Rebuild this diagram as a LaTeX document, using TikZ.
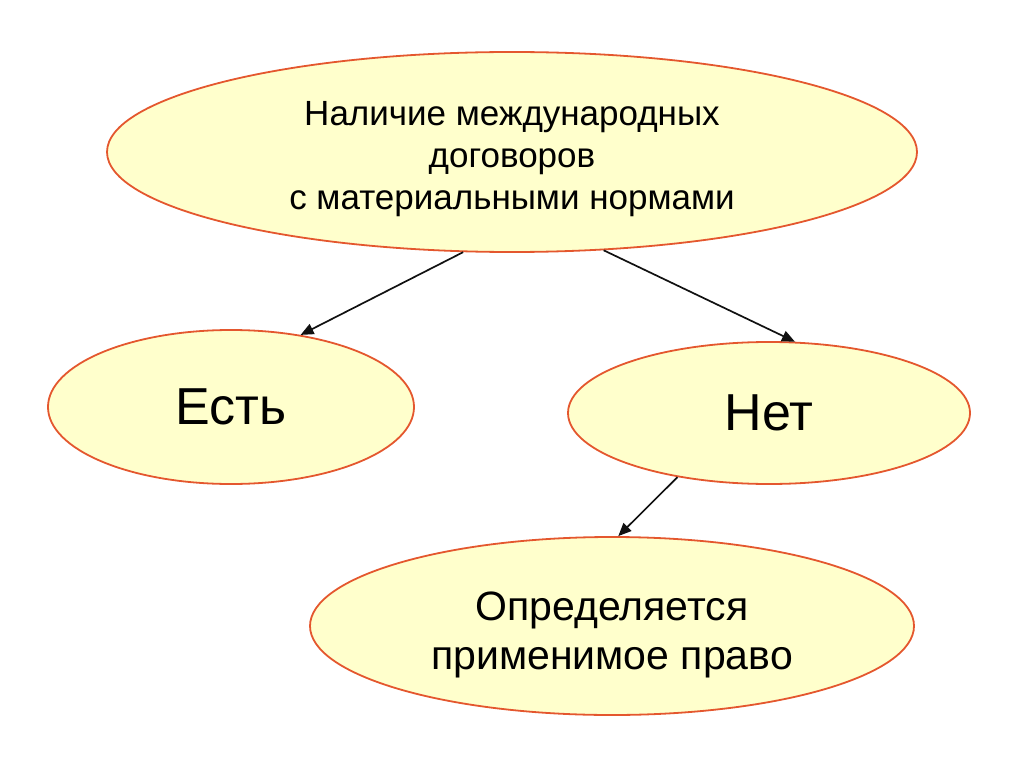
\documentclass[tikz,border=0pt]{standalone}
\usepackage{fontspec}
\setmainfont{Liberation Sans}
\usetikzlibrary{shapes.geometric,arrows.meta}
\definecolor{ovalfill}{HTML}{FFFFCC}
\definecolor{ovalline}{HTML}{E4572E}
\definecolor{inkline}{HTML}{111111}
\tikzset{
  oval/.style={ellipse, draw=ovalline, fill=ovalfill, line width=1.8pt,
    inner sep=0pt, align=center, text=black},
  link/.style={draw=inkline, line width=1.7pt, -{Triangle[length=13pt,width=11pt]}}
}

\begin{document}
\begin{tikzpicture}[x=1pt,y=-1pt]
    \useasboundingbox (0,0) rectangle (1024,767);
    \node[oval, minimum width=810pt, minimum height=200pt,
      font=\fontsize{35}{42}\selectfont] (treaty) at (512,152)
      {\rule{0pt}{39pt}Наличие международных\\договоров\\с материальными нормами};
    \node[oval, minimum width=366pt, minimum height=154pt,
      font=\fontsize{52}{60}\selectfont] (yes) at (231,407) {Есть};
    \node[oval, minimum width=402pt, minimum height=142pt,
      font=\fontsize{52}{60}\selectfont] (no) at (769,413) {Нет};
    \node[oval, minimum width=604pt, minimum height=178pt,
      font=\fontsize{41}{49}\selectfont] (law) at (612,626)
      {\rule{0pt}{46pt}Определяется\\применимое право};
    % arrows between ovals
    \draw[link] (treaty.244) -- (yes.46);
    \draw[link] (treaty.313) -- (no.70);
    \draw[link] (no.215) -- (law.86);
  \end{tikzpicture}
\end{document}
